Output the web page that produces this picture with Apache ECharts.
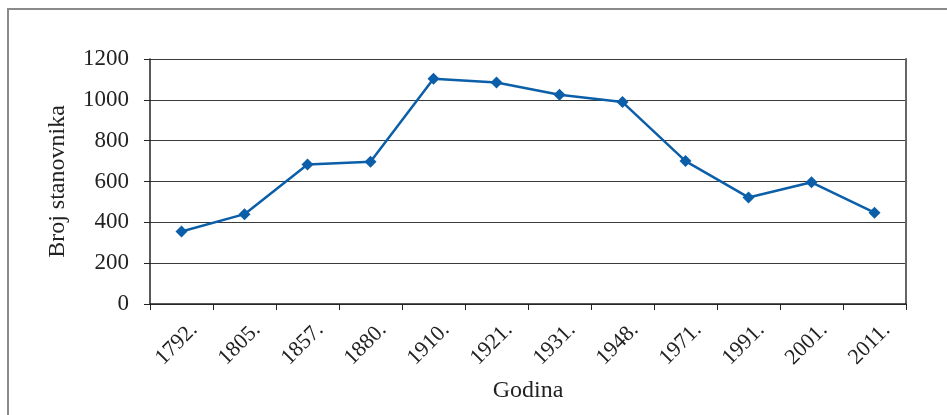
<!DOCTYPE html>
<html><head><meta charset="utf-8">
<script src="https://cdn.jsdelivr.net/npm/echarts@6/dist/echarts.min.js"></script>
<style>html,body{margin:0;padding:0;background:#fff}#c{width:947px;height:415px}</style>
</head><body><div id="c"></div>
<script>
var categories = ['1792.', '1805.', '1857.', '1880.', '1910.', '1921.', '1931.', '1948.', '1971.', '1991.', '2001.', '2011.'];
var population = [355, 440, 683, 697, 1103, 1085, 1025, 989, 700, 522, 596, 447];
var yTicks = [0, 200, 400, 600, 800, 1000, 1200];
var xName = 'Godina';
var yName = 'Broj stanovnika';

var font = 'Liberation Serif';
var chart = echarts.init(document.getElementById('c'), null, {renderer: 'canvas'});
chart.setOption({
  animation: false,
  backgroundColor: '#fff',
  graphic: [{
    type: 'rect', shape: {x: 8, y: 9, width: 1000, height: 500},
    style: {fill: 'none', stroke: '#8a8a8a', lineWidth: 2}, silent: true
  }],
  grid: {left: 150, right: 41, top: 59, bottom: 111},
  xAxis: {
    type: 'category', data: categories, boundaryGap: true,
    name: xName, nameLocation: 'middle', nameGap: 75,
    nameTextStyle: {fontFamily: font, fontSize: 24, color: '#222'},
    axisLine: {lineStyle: {color: '#222', width: 1.5}},
    axisTick: {show: true, length: 6, alignWithLabel: false, lineStyle: {color: '#222'}},
    axisLabel: {interval: 0, rotate: 45, align: 'center', verticalAlign: 'middle', padding: [0, 14, 0, 0],
      fontFamily: font, fontSize: 22, color: '#222', margin: 35}
  },
  yAxis: [{
    type: 'value', min: yTicks[0], max: yTicks[yTicks.length - 1], interval: 200,
    name: yName, nameLocation: 'middle', nameGap: 80,
    nameTextStyle: {fontFamily: font, fontSize: 24, color: '#222'},
    axisLine: {show: true, lineStyle: {color: '#222', width: 1.5}},
    axisTick: {show: true, length: 6, lineStyle: {color: '#222'}},
    axisLabel: {fontFamily: font, fontSize: 23, color: '#222', margin: 21, formatter: function (v) { return String(v); }},
    splitLine: {show: true, lineStyle: {color: '#3a3a3a', width: 1.2}}
  }, {
    type: 'value', position: 'right', min: 0, max: 1200, interval: 200,
    axisLine: {show: true, lineStyle: {color: '#666', width: 2}},
    axisTick: {show: false}, axisLabel: {show: false}, splitLine: {show: false}
  }],
  series: [{
    type: 'line', data: population, yAxisIndex: 0,
    symbol: 'diamond', symbolSize: 12,
    lineStyle: {color: '#0b5ea8', width: 2.5},
    itemStyle: {color: '#0b5ea8'}
  }]
});
</script></body></html>
